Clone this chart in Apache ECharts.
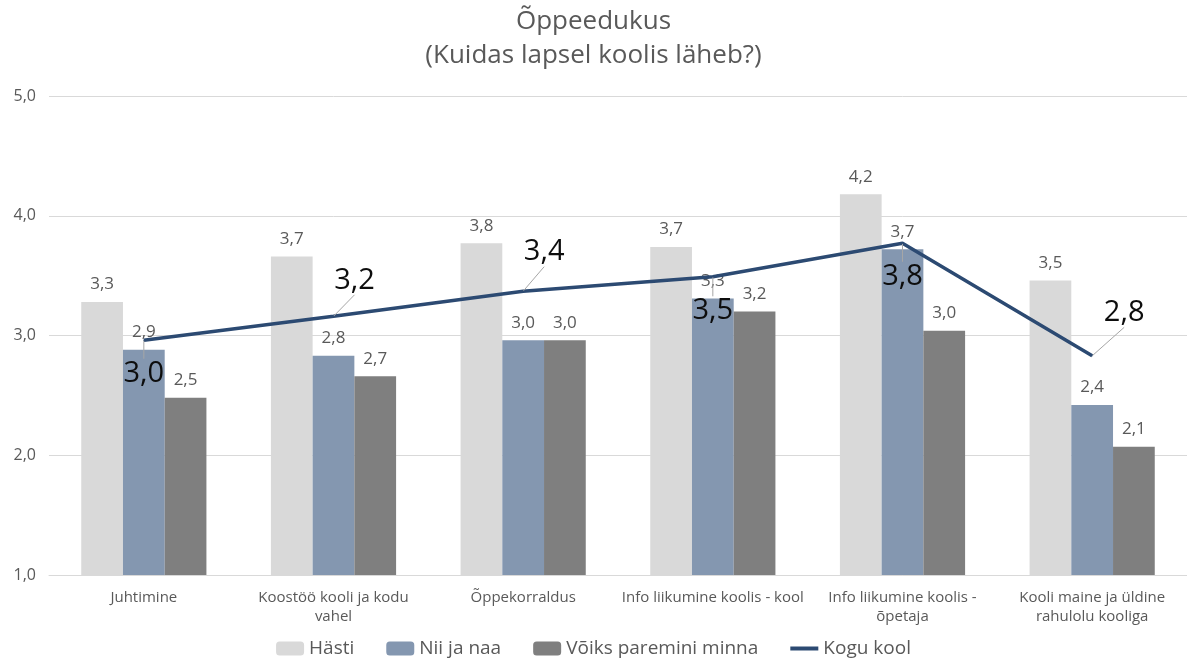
<!DOCTYPE html>
<html>
<head>
<meta charset="utf-8">
<script src="https://cdn.jsdelivr.net/npm/echarts@6/dist/echarts.min.js"></script>
<style>html,body{margin:0;padding:0;background:#fff;}#c{width:1187px;height:664px;}</style>
</head>
<body>
<div id="c"></div>
<script>
var categories = [
  'Juhtimine',
  'Koostöö kooli ja kodu\nvahel',
  'Õppekorraldus',
  'Info liikumine koolis - kool',
  'Info liikumine koolis -\nõpetaja',
  'Kooli maine ja üldine\nrahulolu kooliga'
];
var hasti = [3.28, 3.66, 3.77, 3.74, 4.18, 3.46];
var niiJaNaa = [2.88, 2.83, 2.96, 3.31, 3.72, 2.42];
var voiks = [2.48, 2.66, 2.96, 3.20, 3.04, 2.07];
var koguKool = [2.96, 3.16, 3.37, 3.49, 3.77, 2.83];
var yTicks = [1, 2, 3, 4, 5];

// label offsets for the "Kogu kool" labels (style, not data)
var lineLabelOffsets = [[0, 33], [21, -36], [21, -39], [0, 34], [0, 33], [32, -43]];

function fmt(v) { return (Math.round(v * 10) / 10).toFixed(1).replace('.', ','); }

var FONT = '"Open Sans", "DejaVu Sans", sans-serif';
var chart = echarts.init(document.getElementById('c'), null, {renderer: 'canvas'});

var barLabel = {
  show: true, position: 'top', distance: 9,
  color: '#595959', fontSize: 17, fontFamily: FONT,
  formatter: function (p) { return fmt(p.value); }
};

chart.setOption({
  animation: false,
  backgroundColor: '#ffffff',
  textStyle: {fontFamily: FONT},
  title: {
    text: 'Õppeedukus\n(Kuidas lapsel koolis läheb?)',
    left: 'center', top: 0,
    textStyle: {fontFamily: FONT, fontSize: 26, fontWeight: 'normal', color: '#595959', lineHeight: 34}
  },
  legend: {
    bottom: 1, left: 'center',
    itemWidth: 28, itemHeight: 14, itemGap: 32,
    textStyle: {fontFamily: FONT, fontSize: 19, color: '#595959'},
    data: [
      {name: 'Hästi'}, {name: 'Nii ja naa'}, {name: 'Võiks paremini minna'},
      {name: 'Kogu kool', icon: 'path://M0,5 L28,5 L28,9 L0,9 Z'}
    ]
  },
  grid: {left: 49, right: 0, top: 96, bottom: 89},
  xAxis: {
    type: 'category', data: categories,
    axisLine: {show: true, lineStyle: {color: '#d9d9d9', width: 1}},
    axisTick: {show: false},
    axisLabel: {interval: 0, color: '#595959', fontSize: 15, fontFamily: FONT, lineHeight: 19, margin: 13}
  },
  yAxis: {
    type: 'value', min: yTicks[0], max: yTicks[yTicks.length - 1], interval: 1,
    axisLine: {show: false}, axisTick: {show: false},
    splitLine: {lineStyle: {color: '#d9d9d9', width: 1}},
    axisLabel: {color: '#595959', fontSize: 16, fontFamily: FONT, margin: 13,
      formatter: function (v) { return v.toFixed(1).replace('.', ','); }}
  },
  series: [
    {name: 'Hästi', type: 'bar', data: hasti, barGap: '0%', barCategoryGap: '34%',
      itemStyle: {color: '#d9d9d9'}, label: barLabel},
    {name: 'Nii ja naa', type: 'bar', data: niiJaNaa,
      itemStyle: {color: '#8497b0'}, label: barLabel},
    {name: 'Võiks paremini minna', type: 'bar', data: voiks,
      itemStyle: {color: '#7f7f7f'}, label: barLabel},
    {name: 'Kogu kool', type: 'line', data: koguKool,
      symbol: 'circle', symbolSize: 1, showSymbol: true,
      itemStyle: {color: '#2c4a72'},
      lineStyle: {color: '#2c4a72', width: 3.5},
      label: {show: true, position: 'inside', color: '#0d0d0d', fontSize: 29, fontFamily: FONT,
        formatter: function (p) { return fmt(p.value); }},
      labelLine: {show: true, lineStyle: {color: '#a6a6a6', width: 1}},
      labelLayout: function (p) {
        var o = lineLabelOffsets[p.dataIndex] || [0, 0];
        return {dx: o[0], dy: o[1]};
      },
      z: 5
    }
  ]
});
</script>
</body>
</html>
